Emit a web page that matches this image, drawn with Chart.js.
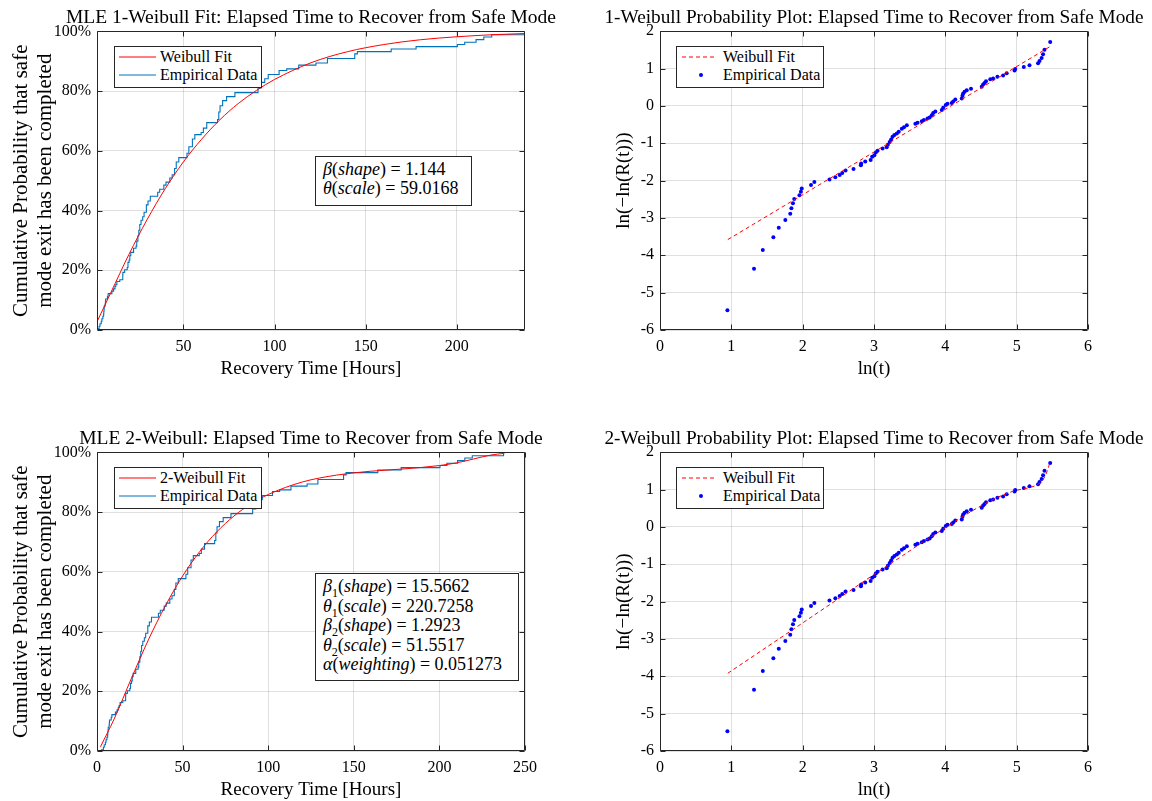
<!DOCTYPE html>
<html>
<head>
<meta charset="utf-8">
<script src="https://cdn.jsdelivr.net/npm/chart.js@4.4.0/dist/chart.umd.min.js"></script>
<style>
  body { margin: 0; width: 1152px; height: 801px; overflow: hidden; background: #fff; position: relative;
         font-family: "Liberation Serif", "Times New Roman", serif; color: #000; }
  canvas { position: absolute; }
  .box { position: absolute; border: 1px solid #262626; background: #fff; box-sizing: border-box; }
  .row { position: absolute; height: 20px; line-height: 20px; white-space: nowrap; }
  .legend .row { font-size: 16px; }
  .note .row { font-size: 18px; left: 7px; }
  .swatch { position: absolute; }
  .dot { position: absolute; width: 4px; height: 4px; border-radius: 50%; background: #0000ff; }
</style>
</head>
<body>
<canvas id="cdf1" width="622" height="400" style="left:0;top:0"></canvas>
<canvas id="pp1" width="556" height="400" style="left:596px;top:0"></canvas>
<canvas id="cdf2" width="622" height="400" style="left:0;top:421px"></canvas>
<canvas id="pp2" width="556" height="400" style="left:596px;top:421px"></canvas>

<!-- legends -->
<div class="box legend" style="left:114px;top:46px;width:148px;height:42px">
  <svg class="swatch" style="left:4px;top:0" width="38" height="20"><line x1="0" y1="10" x2="37" y2="10" stroke="#ff0000" stroke-width="1"/></svg>
  <div class="row" style="left:45px;top:0">Weibull Fit</div>
  <svg class="swatch" style="left:4px;top:18px" width="38" height="20"><line x1="0" y1="10" x2="37" y2="10" stroke="#0072BD" stroke-width="1"/></svg>
  <div class="row" style="left:45px;top:18px">Empirical Data</div>
</div>
<div class="box note" style="left:315px;top:156px;width:157px;height:50px">
  <div class="row" style="top:2px"><i>β</i>(<i>shape</i>) = 1.144</div>
  <div class="row" style="top:21px"><i>θ</i>(<i>scale</i>) = 59.0168</div>
</div>

<div class="box legend" style="left:676px;top:46px;width:148px;height:42px">
  <svg class="swatch" style="left:5px;top:0" width="36" height="20"><line x1="0" y1="10" x2="34" y2="10" stroke="#ff0000" stroke-width="1" stroke-dasharray="4 3"/></svg>
  <div class="row" style="left:46px;top:0">Weibull Fit</div>
  <span class="dot" style="left:22px;top:26px"></span>
  <div class="row" style="left:46px;top:18px">Empirical Data</div>
</div>

<div class="box legend" style="left:114px;top:467px;width:148px;height:42px">
  <svg class="swatch" style="left:4px;top:0" width="38" height="20"><line x1="0" y1="10" x2="37" y2="10" stroke="#ff0000" stroke-width="1"/></svg>
  <div class="row" style="left:45px;top:0">2-Weibull Fit</div>
  <svg class="swatch" style="left:4px;top:18px" width="38" height="20"><line x1="0" y1="10" x2="37" y2="10" stroke="#0072BD" stroke-width="1"/></svg>
  <div class="row" style="left:45px;top:18px">Empirical Data</div>
</div>
<div class="box note" style="left:315px;top:573px;width:204px;height:108px">
  <div class="row" style="top:2px"><i>β</i><sub style="font-size:12px">1</sub>(<i>shape</i>) = 15.5662</div>
  <div class="row" style="top:21.5px"><i>θ</i><sub style="font-size:12px">1</sub>(<i>scale</i>) = 220.7258</div>
  <div class="row" style="top:41px"><i>β</i><sub style="font-size:12px">2</sub>(<i>shape</i>) = 1.2923</div>
  <div class="row" style="top:60.5px"><i>θ</i><sub style="font-size:12px">2</sub>(<i>scale</i>) = 51.5517</div>
  <div class="row" style="top:80px"><i>α</i>(<i>weighting</i>) = 0.051273</div>
</div>

<div class="box legend" style="left:676px;top:467px;width:148px;height:42px">
  <svg class="swatch" style="left:5px;top:0" width="36" height="20"><line x1="0" y1="10" x2="34" y2="10" stroke="#ff0000" stroke-width="1" stroke-dasharray="4 3"/></svg>
  <div class="row" style="left:46px;top:0">Weibull Fit</div>
  <span class="dot" style="left:22px;top:26px"></span>
  <div class="row" style="left:46px;top:18px">Empirical Data</div>
</div>

<script>
// empirical data: ln(t) and ln(-ln(R(t)))
const lnTime = [0.945, 1.318, 1.441, 1.589, 1.665, 1.757, 1.826, 1.842, 1.864, 1.882,
  1.955, 1.975, 1.987, 2.117, 2.164, 2.376, 2.458, 2.519, 2.555, 2.601,
  2.713, 2.816, 2.82, 2.877, 2.953, 2.974, 3.005, 3.025, 3.05, 3.12,
  3.178, 3.194, 3.22, 3.24, 3.26, 3.286, 3.32, 3.347, 3.39, 3.42,
  3.46, 3.58, 3.61, 3.67, 3.70, 3.75, 3.78, 3.81, 3.83, 3.86,
  3.95, 3.97, 4.006, 4.03, 4.09, 4.11, 4.14, 4.23, 4.24, 4.25,
  4.27, 4.30, 4.36, 4.51, 4.53, 4.55, 4.57, 4.63, 4.67, 4.73,
  4.81, 4.86, 4.97, 4.98, 5.10, 5.18, 5.30, 5.32, 5.35, 5.37,
  5.39, 5.47];
const lnLnR = [-5.47, -4.36, -3.86, -3.515, -3.26, -3.057, -2.889, -2.739, -2.606, -2.49,
  -2.39, -2.30, -2.21, -2.12, -2.04, -1.97, -1.91, -1.85, -1.80, -1.73,
  -1.69, -1.59, -1.54, -1.49, -1.45, -1.36, -1.32, -1.25, -1.20, -1.14,
  -1.11, -1.04, -0.97, -0.90, -0.83, -0.78, -0.74, -0.69, -0.61, -0.57,
  -0.52, -0.48, -0.45, -0.41, -0.38, -0.34, -0.31, -0.25, -0.19, -0.15,
  -0.11, -0.05, 0.02, 0.06, 0.08, 0.12, 0.17, 0.20, 0.27, 0.33,
  0.38, 0.42, 0.46, 0.51, 0.57, 0.61, 0.66, 0.71, 0.73, 0.78,
  0.81, 0.875, 0.95, 0.99, 1.04, 1.09, 1.14, 1.20, 1.28, 1.38,
  1.50, 1.71];

// fitted curves
const fitHours1 = [2.6, 10, 20, 30, 40, 50, 60, 70, 80, 90, 100, 120, 140, 160, 180, 200, 220, 238];
const fitProb1 = [2.8, 12.3, 25.2, 36.9, 47.3, 56.3, 63.9, 70.4, 75.8, 80.2, 83.9, 89.5, 93.2, 95.6, 97.2, 98.2, 98.9, 99.3];
const fitHours2 = [2, 10, 20, 30, 40, 50, 60, 70, 80, 90, 100, 120, 140, 160, 180, 200, 210, 220, 230, 238];
const fitProb2 = [1.4, 10.7, 24.2, 37.2, 48.7, 58.6, 66.8, 73.4, 78.7, 82.8, 85.9, 90.1, 92.4, 93.7, 94.5, 95.6, 96.5, 97.8, 99.1, 99.7];
const fitLnT1 = [0.95, 5.47];
const fitLnR1 = [-3.58, 1.59];
const fitLnT2 = [0.95, 2.303, 2.996, 3.401, 3.689, 3.912, 4.248, 4.605, 4.942, 5.193, 5.298, 5.394, 5.438, 5.472];
const fitLnR2 = [-3.92, -2.18, -1.28, -0.77, -0.40, -0.13, 0.28, 0.67, 0.95, 1.06, 1.14, 1.34, 1.55, 1.76];

// tick labels
const pctTicks = [0, 20, 40, 60, 80, 100];
const hourTicksTop = [50, 100, 150, 200];
const hourTicksBottom = [0, 50, 100, 150, 200, 250];
const lnTTicks = [0, 1, 2, 3, 4, 5, 6];
const lnRTicks = [-6, -5, -4, -3, -2, -1, 0, 1, 2];

const SERIF = "'Liberation Serif', 'Times New Roman', serif";
const INK = "#262626";
const GRID = "rgba(38,38,38,0.15)";
const FIT_RED = "#ff0000";
const EMP_BLUE = "#0072BD";

const pts = (xs, ys) => xs.map((x, i) => ({ x: x, y: ys[i] }));

// empirical cdf as a staircase, in hours and percent
const empHours = lnTime.map((v) => Math.exp(v));
const empPct = lnLnR.map((v) => 100 * (1 - Math.exp(-Math.exp(v))));
const empSteps = [{ x: empHours[0], y: 0 }].concat(pts(empHours, empPct));

// matlab-ish box with inward ticks on all four sides
const boxPlugin = {
	id: "matlabBox",
	afterDraw(chart) {
		const { ctx, chartArea: a, scales } = chart;
		const L = Math.round(a.left) + 0.5, R = Math.round(a.right) - 0.5;
		const T = Math.round(a.top) + 0.5, B = Math.round(a.bottom) - 0.5;
		ctx.save();
		ctx.strokeStyle = INK;
		ctx.lineWidth = 1;
		ctx.beginPath();
		scales.x.ticks.forEach((t) => {
			const px = Math.round(scales.x.getPixelForValue(t.value)) + 0.5;
			ctx.moveTo(px, B); ctx.lineTo(px, B - 5);
			ctx.moveTo(px, T); ctx.lineTo(px, T + 5);
		});
		scales.y.ticks.forEach((t) => {
			const py = Math.round(scales.y.getPixelForValue(t.value)) + 0.5;
			ctx.moveTo(L, py); ctx.lineTo(L + 5, py);
			ctx.moveTo(R, py); ctx.lineTo(R - 5, py);
		});
		ctx.rect(L, T, R - L, B - T);
		ctx.stroke();
		ctx.restore();
	},
};

function makeChart(id, c) {
	return new Chart(document.getElementById(id), {
		type: "line",
		data: { datasets: c.datasets },
		options: {
			responsive: false,
			animation: false,
			devicePixelRatio: 1,
			layout: { padding: 0 },
			plugins: {
				legend: { display: false },
				tooltip: { enabled: false },
				title: {
					display: true,
					text: c.title,
					color: "#000",
					font: { family: SERIF, size: c.titleSize, weight: "normal" },
					padding: { top: 6, bottom: 2 },
				},
			},
			scales: {
				x: {
					type: "linear",
					min: c.xMin,
					max: c.xMax,
					afterBuildTicks: (s) => { s.ticks = c.xTicks.map((v) => ({ value: v })); },
					afterFit: (s) => { s.height = 70; },
					grid: { color: GRID, drawTicks: false },
					border: { display: false },
					ticks: { color: "#000", font: { family: SERIF, size: 16 }, padding: 7, maxRotation: 0 },
					title: {
						display: true,
						text: c.xTitle,
						color: "#000",
						font: { family: SERIF, size: 19 },
						padding: { top: 0, bottom: 20 },
					},
				},
				y: {
					type: "linear",
					min: c.yMin,
					max: c.yMax,
					afterBuildTicks: (s) => { s.ticks = c.yTicks.map((v) => ({ value: v })); },
					afterFit: (s) => { s.width = c.yWidth; },
					grid: { color: GRID, drawTicks: false },
					border: { display: false },
					ticks: { color: "#000", font: { family: SERIF, size: 16 }, padding: 6, callback: c.yFmt },
					title: {
						display: true,
						text: c.yTitle,
						color: "#000",
						font: { family: SERIF, size: c.yTitleSize, lineHeight: c.yTitleLine },
						padding: { top: c.yTitlePad, bottom: 0 },
					},
				},
				// empty right-hand axis, only keeps room so the title centres over the plot
				pad: {
					type: "linear",
					position: "right",
					grid: { display: false, drawTicks: false },
					border: { display: false },
					ticks: { display: false },
					afterFit: (s) => { s.width = c.padRight; },
				},
			},
		},
		plugins: [boxPlugin],
	});
}

const cdfYTitle = ["Cumulative Probability that safe", "mode exit has been completed"];
const pct = (v) => v + "%";

makeChart("cdf1", {
	title: "MLE 1-Weibull Fit: Elapsed Time to Recover from Safe Mode", titleSize: 19.5,
	xTitle: "Recovery Time [Hours]",
	yTitle: cdfYTitle, yTitleSize: 21, yTitleLine: 1.15, yTitlePad: 9,
	xMin: empHours[0], xMax: empHours[empHours.length - 1], xTicks: hourTicksTop,
	yMin: 0, yMax: 100, yTicks: pctTicks, yFmt: pct,
	yWidth: 97, padRight: 97,
	datasets: [
		{ data: pts(fitHours1, fitProb1), borderColor: FIT_RED, borderWidth: 1, pointRadius: 0, cubicInterpolationMode: "monotone" },
		{ data: empSteps, borderColor: EMP_BLUE, borderWidth: 1.1, pointRadius: 0, stepped: true },
	],
});

makeChart("cdf2", {
	title: "MLE 2-Weibull: Elapsed Time to Recover from Safe Mode", titleSize: 19.5,
	xTitle: "Recovery Time [Hours]",
	yTitle: cdfYTitle, yTitleSize: 21, yTitleLine: 1.15, yTitlePad: 9,
	xMin: 0, xMax: 250, xTicks: hourTicksBottom,
	yMin: 0, yMax: 100, yTicks: pctTicks, yFmt: pct,
	yWidth: 97, padRight: 97,
	datasets: [
		{ data: pts(fitHours2, fitProb2), borderColor: FIT_RED, borderWidth: 1, pointRadius: 0, cubicInterpolationMode: "monotone" },
		{ data: empSteps, borderColor: EMP_BLUE, borderWidth: 1.1, pointRadius: 0, stepped: true },
	],
});

const ppCommon = {
	titleSize: 19.3,
	xTitle: "ln(t)",
	yTitle: "ln(\u2212ln(R(t)))", yTitleSize: 19, yTitleLine: 1.2, yTitlePad: 17,
	xMin: 0, xMax: 6, xTicks: lnTTicks,
	yMin: -6, yMax: 2, yTicks: lnRTicks, yFmt: (v) => String(v),
	yWidth: 64, padRight: 64,
};

makeChart("pp1", Object.assign({}, ppCommon, {
	title: "1-Weibull Probability Plot: Elapsed Time to Recover from Safe Mode",
	datasets: [
		{ data: pts(fitLnT1, fitLnR1), borderColor: FIT_RED, borderWidth: 1, borderDash: [4, 3], pointRadius: 0 },
		{ data: pts(lnTime, lnLnR), showLine: false, pointRadius: 2, pointBorderWidth: 0, pointBackgroundColor: "#0000ff" },
	],
}));

makeChart("pp2", Object.assign({}, ppCommon, {
	title: "2-Weibull Probability Plot: Elapsed Time to Recover from Safe Mode",
	datasets: [
		{ data: pts(fitLnT2, fitLnR2), borderColor: FIT_RED, borderWidth: 1, borderDash: [4, 3], pointRadius: 0, cubicInterpolationMode: "monotone" },
		{ data: pts(lnTime, lnLnR), showLine: false, pointRadius: 2, pointBorderWidth: 0, pointBackgroundColor: "#0000ff" },
	],
}));
</script>
</body>
</html>
